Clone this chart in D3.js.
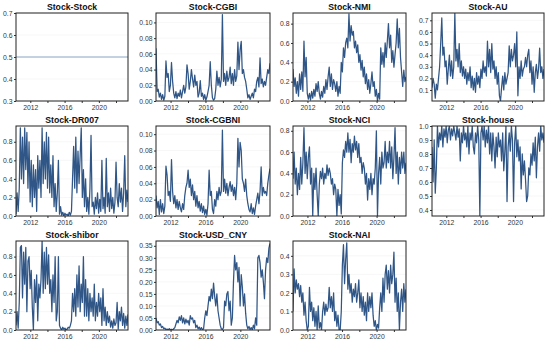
<!DOCTYPE html>
<html lang="en">
<head>
  <meta charset="UTF-8">
  <title>Stock pair series</title>
  <script src="https://d3js.org/d3.v7.min.js"></script>
  <style>
    body { margin: 0; background: #fff; }
    .title { font-family: "Liberation Sans", Arial, sans-serif; font-weight: bold; font-size: 8.7px; fill: #111; text-anchor: middle; }
    .tick text { font-family: "Liberation Sans", Arial, sans-serif; font-size: 6.8px; fill: #333; }
    .tick line { stroke: #333; }
    .domain { display: none; }
  </style>
</head>
<body>
<script>
// panel titles
const titles = ["Stock-Stock", "Stock-CGBI", "Stock-NMI", "Stock-AU",
  "Stock-DR007", "Stock-CGBNI", "Stock-NCI", "Stock-house",
  "Stock-shibor", "Stock-USD_CNY", "Stock-NAI"];

// series values, evenly spaced over the date range
const stockStock = [0.5, 0.5];
const cgbi = [0.067, 0.012, 0.015, 0.005, 0.010, 0.002, 0.008, 0.001, 0.006, 0.051,
  0.030, 0.035, 0.012, 0.020, 0.049, 0.025, 0.010, 0.004, 0.012, 0.003,
  0.010, 0.006, 0.014, 0.004, 0.012, 0.020, 0.010, 0.018, 0.046, 0.035,
  0.015, 0.025, 0.040, 0.028, 0.018, 0.033, 0.020, 0.025, 0.005, 0.010,
  0.026, 0.006, 0.010, 0.002, 0.008, 0.001, 0.005, 0.012, 0.020, 0.050,
  0.020, 0.004, 0.001, 0.003, 0.015, 0.038, 0.020, 0.030, 0.018, 0.028,
  0.110, 0.025, 0.035, 0.020, 0.038, 0.025, 0.030, 0.043, 0.022, 0.035,
  0.020, 0.040, 0.025, 0.032, 0.075, 0.040, 0.065, 0.076, 0.035, 0.040,
  0.030, 0.025, 0.015, 0.004, 0.008, 0.002, 0.006, 0.010, 0.004, 0.015,
  0.012, 0.025, 0.030, 0.018, 0.055, 0.022, 0.028, 0.018, 0.025, 0.020,
  0.030, 0.040, 0.035, 0.048];
const nmi = [0.33, 0.15, 0.24, 0.08, 0.20, 0.05, 0.28, 0.12, 0.30, 0.10,
  0.62, 0.25, 0.45, 0.08, 0.02, 0.08, 0.01, 0.10, 0.03, 0.12,
  0.05, 0.18, 0.10, 0.20, 0.08, 0.02, 0.10, 0.04, 0.15, 0.08,
  0.22, 0.12, 0.25, 0.35, 0.15, 0.28, 0.12, 0.22, 0.18, 0.10,
  0.20, 0.05, 0.15, 0.08, 0.40, 0.30, 0.55, 0.45, 0.60, 0.65,
  0.55, 0.90, 0.62, 0.78, 0.68, 0.72, 0.55, 0.62, 0.50, 0.58,
  0.40, 0.48, 0.32, 0.42, 0.25, 0.35, 0.18, 0.28, 0.12, 0.22,
  0.08, 0.18, 0.30, 0.15, 0.20, 0.05, 0.12, 0.00, 0.08, 0.02,
  0.55, 0.38, 0.50, 0.35, 0.60, 0.45, 0.62, 0.80, 0.55, 0.68,
  0.40, 0.52, 0.35, 0.48, 0.60, 0.85, 0.55, 0.75, 0.45, 0.30,
  0.15, 0.32, 0.20, 0.25];
const au = [0.12, 0.20, 0.15, 0.03, 0.15, 0.10, 0.20, 0.30, 0.50, 0.72,
  0.40, 0.47, 0.30, 0.35, 0.15, 0.28, 0.40, 0.22, 0.35, 0.20,
  0.30, 0.76, 0.35, 0.45, 0.30, 0.50, 0.25, 0.35, 0.22, 0.30,
  0.20, 0.28, 0.15, 0.25, 0.18, 0.30, 0.12, 0.22, 0.10, 0.20,
  0.08, 0.25, 0.15, 0.22, 0.12, 0.28, 0.20, 0.35, 0.25, 0.30,
  0.22, 0.52, 0.30, 0.45, 0.25, 0.50, 0.28, 0.35, 0.20, 0.30,
  0.15, 0.25, 0.05, 0.005, 0.12, 0.22, 0.10, 0.25, 0.15, 0.20,
  0.25, 0.48, 0.30, 0.45, 0.35, 0.40, 0.50, 0.30, 0.60, 0.05,
  0.30, 0.20, 0.35, 0.22, 0.28, 0.30, 0.38, 0.30, 0.40, 0.45,
  0.25, 0.35, 0.15, 0.30, 0.08, 0.25, 0.32, 0.20, 0.28, 0.46,
  0.25, 0.30, 0.20, 0.28];
const dr007 = [0.02, 0.25, 0.05, 0.30, 0.95, 0.40, 0.85, 0.35, 0.95, 0.50,
  0.90, 0.30, 0.80, 0.15, 0.60, 0.10, 0.55, 0.20, 0.50, 0.05,
  0.65, 0.30, 0.60, 0.20, 0.95, 0.35, 0.80, 0.40, 0.90, 0.30,
  0.85, 0.25, 0.55, 0.20, 0.65, 0.10, 0.35, 0.05, 0.25, 0.60,
  0.02, 0.10, 0.01, 0.04, 0.00, 0.03, 0.01, 0.02, 0.00, 0.04,
  0.01, 0.05, 0.40, 0.75, 0.30, 0.85, 0.25, 0.70, 0.35, 0.65,
  0.95, 0.20, 0.50, 0.10, 0.40, 0.05, 0.20, 0.02, 0.30, 0.87,
  0.10, 0.15, 0.02, 0.20, 0.08, 0.25, 0.03, 0.18, 0.05, 0.60,
  0.08, 0.20, 0.03, 0.62, 0.10, 0.25, 0.05, 0.30, 0.08, 0.20,
  0.03, 0.15, 0.58, 0.20, 0.10, 0.35, 0.15, 0.30, 0.05, 0.25,
  0.65, 0.10, 0.28, 0.15];
const cgbni = [0.025, 0.010, 0.018, 0.002, 0.020, 0.005, 0.015, 0.003, 0.012, 0.061,
  0.050, 0.025, 0.030, 0.018, 0.069, 0.030, 0.015, 0.025, 0.010, 0.020,
  0.008, 0.018, 0.010, 0.005, 0.015, 0.008, 0.025, 0.035, 0.040, 0.056,
  0.035, 0.045, 0.025, 0.038, 0.020, 0.030, 0.012, 0.025, 0.010, 0.018,
  0.006, 0.015, 0.004, 0.012, 0.002, 0.008, 0.001, 0.015, 0.056, 0.025,
  0.030, 0.008, 0.003, 0.020, 0.012, 0.030, 0.020, 0.035, 0.025, 0.030,
  0.105, 0.030, 0.045, 0.028, 0.040, 0.025, 0.035, 0.042, 0.030, 0.038,
  0.025, 0.035, 0.020, 0.040, 0.095, 0.060, 0.090, 0.080, 0.045, 0.040,
  0.030, 0.045, 0.025, 0.015, 0.008, 0.005, 0.015, 0.003, 0.010, 0.002,
  0.012, 0.020, 0.028, 0.015, 0.030, 0.060, 0.025, 0.035, 0.028, 0.030,
  0.025, 0.040, 0.050, 0.058];
const nci = [0.35, 0.60, 0.30, 0.45, 0.20, 0.40, 0.25, 0.55, 0.30, 0.50,
  0.83, 0.40, 0.60, 0.35, 0.55, 0.65, 0.30, 0.45, 0.00, 0.40,
  0.25, 0.45, 0.20, 0.00, 0.30, 0.42, 0.35, 0.45, 0.30, 0.40,
  0.35, 0.48, 0.38, 0.45, 0.40, 0.30, 0.35, 0.20, 0.30, 0.25,
  0.00, 0.25, 0.10, 0.20, 0.02, 0.50, 0.62, 0.55, 0.70, 0.60,
  0.78, 0.60, 0.72, 0.50, 0.68, 0.60, 0.75, 0.62, 0.70, 0.55,
  0.68, 0.50, 0.55, 0.40, 0.50, 0.45, 0.30, 0.40, 0.15, 0.35,
  0.25, 0.40, 0.20, 0.35, 0.30, 0.45, 0.80, 0.00, 0.40, 0.55,
  0.30, 0.60, 0.45, 0.50, 0.70, 0.45, 0.60, 0.50, 0.70, 0.45,
  0.65, 0.35, 0.55, 0.83, 0.40, 0.60, 0.30, 0.55, 0.40, 0.60,
  0.45, 0.60, 0.40, 0.50];
const house = [0.85, 0.60, 0.90, 0.52, 0.70, 1.00, 0.85, 0.95, 0.90, 1.00,
  0.85, 0.98, 0.92, 1.00, 0.88, 0.97, 1.00, 0.90, 0.98, 0.93,
  1.00, 0.95, 0.90, 1.00, 0.92, 0.98, 0.75, 0.95, 0.88, 1.00,
  0.90, 0.95, 0.85, 1.00, 0.80, 0.95, 0.90, 1.00, 0.85, 0.80,
  0.95, 0.88, 1.00, 0.90, 0.36, 0.95, 1.00, 0.90, 1.00, 0.85,
  0.97, 0.88, 1.00, 0.80, 0.95, 0.75, 0.95, 0.85, 0.70, 0.92,
  0.78, 0.95, 0.85, 0.90, 0.75, 0.95, 0.68, 0.82, 1.00, 0.46,
  0.85, 0.95, 0.82, 1.00, 0.90, 0.46, 0.88, 1.00, 0.78, 0.90,
  0.75, 0.85, 0.55, 0.80, 0.65, 0.75, 0.62, 0.46, 0.50, 0.70,
  0.65, 0.80, 0.72, 0.88, 0.75, 0.92, 0.63, 0.85, 0.95, 0.82,
  1.00, 0.90, 0.95, 0.88];
const shibor = [0.05, 0.20, 0.02, 0.30, 0.90, 0.92, 0.35, 0.85, 0.50, 0.90,
  0.20, 0.75, 0.80, 0.45, 0.65, 0.25, 0.00, 0.55, 0.30, 0.60,
  0.10, 0.50, 0.35, 0.55, 0.97, 0.40, 0.85, 0.45, 0.90, 0.50,
  0.82, 0.40, 0.55, 0.20, 0.60, 0.30, 0.80, 0.10, 0.20, 0.80,
  0.05, 0.02, 0.00, 0.03, 0.01, 0.02, 0.00, 0.01, 0.03, 0.02,
  0.05, 0.10, 0.40, 0.20, 0.45, 0.15, 0.60, 0.25, 0.70, 0.20,
  0.50, 0.30, 0.80, 0.15, 0.55, 0.15, 0.45, 0.10, 0.40, 0.20,
  0.35, 0.15, 0.50, 0.10, 0.30, 0.15, 0.40, 0.20, 0.35, 0.05,
  0.45, 0.10, 0.25, 0.05, 0.20, 0.08, 0.15, 0.03, 0.10, 0.02,
  0.12, 0.05, 0.08, 0.30, 0.01, 0.20, 0.10, 0.25, 0.05, 0.18,
  0.02, 0.15, 0.05, 0.17];
const usdCny = [0.050, 0.030, 0.035, 0.020, 0.025, 0.010, 0.015, 0.005, 0.008, 0.002,
  0.004, 0.000, 0.006, 0.001, 0.003, 0.000, 0.005, 0.010, 0.025, 0.040,
  0.030, 0.055, 0.040, 0.060, 0.030, 0.050, 0.025, 0.045, 0.030, 0.040,
  0.020, 0.060, 0.045, 0.050, 0.030, 0.040, 0.010, 0.020, 0.005, 0.012,
  0.002, 0.010, 0.001, 0.005, 0.050, 0.080, 0.060, 0.100, 0.140, 0.120,
  0.170, 0.130, 0.195, 0.140, 0.100, 0.150, 0.080, 0.050, 0.020, 0.005,
  0.002, 0.010, 0.120, 0.100, 0.150, 0.160, 0.080, 0.120, 0.020, 0.050,
  0.200, 0.310, 0.250, 0.280, 0.200, 0.260, 0.100, 0.230, 0.180, 0.100,
  0.150, 0.070, 0.020, 0.005, 0.015, 0.002, 0.010, 0.000, 0.020, 0.005,
  0.050, 0.020, 0.300, 0.310, 0.280, 0.220, 0.250, 0.200, 0.130, 0.250,
  0.300, 0.280, 0.340, 0.360];
const nai = [0.10, 0.33, 0.20, 0.27, 0.22, 0.25, 0.18, 0.24, 0.15, 0.20,
  0.08, 0.15, 0.05, 0.00, 0.02, 0.23, 0.10, 0.15, 0.05, 0.12,
  0.02, 0.10, 0.00, 0.13, 0.01, 0.04, 0.00, 0.10, 0.15, 0.08,
  0.14, 0.10, 0.12, 0.23, 0.12, 0.18, 0.10, 0.20, 0.05, 0.10,
  0.02, 0.08, 0.00, 0.00, 0.10, 0.35, 0.46, 0.25, 0.38, 0.47,
  0.22, 0.30, 0.20, 0.25, 0.15, 0.22, 0.18, 0.25, 0.15, 0.20,
  0.27, 0.12, 0.20, 0.10, 0.18, 0.08, 0.15, 0.05, 0.20, 0.10,
  0.18, 0.12, 0.20, 0.08, 0.02, 0.05, 0.00, 0.03, 0.01, 0.12,
  0.20, 0.10, 0.28, 0.15, 0.30, 0.35, 0.22, 0.32, 0.20, 0.35,
  0.25, 0.30, 0.42, 0.15, 0.28, 0.10, 0.20, 0.00, 0.15, 0.22,
  0.10, 0.25, 0.15, 0.22];

const series = [stockStock, cgbi, nmi, au, dr007, cgbni, nci, house, shibor, usdCny, nai];

// axis settings
const xRange = [2010.33, 2023.4];
const xTicks = [2012, 2014, 2016, 2018, 2020, 2022];
const xLabels = [2012, 2016, 2020];
const yDomains = [[0.3, 0.7], [0, 0.112], [0, 0.91], [0.005, 0.763],
  [0, 0.97], [0, 0.11], [0, 0.845], [0.357, 1.0],
  [0, 0.97], [0, 0.37], [0, 0.48]];
const yTicks = [[0.3, 0.4, 0.5, 0.6, 0.7], [0, 0.02, 0.04, 0.06, 0.08, 0.1], [0, 0.2, 0.4, 0.6, 0.8], [0.1, 0.2, 0.3, 0.4, 0.5, 0.6, 0.7],
  [0, 0.2, 0.4, 0.6, 0.8], [0, 0.02, 0.04, 0.06, 0.08, 0.1], [0, 0.2, 0.4, 0.6, 0.8], [0.4, 0.5, 0.6, 0.7, 0.8, 0.9, 1.0],
  [0, 0.2, 0.4, 0.6, 0.8], [0, 0.05, 0.1, 0.15, 0.2, 0.25, 0.3, 0.35], [0, 0.1, 0.2, 0.3, 0.4]];
const yFormats = [".1f", ".2f", ".1f", ".1f", ".1f", ".2f", ".1f", ".1f", ".1f", ".2f", ".1f"];

// grid layout (pixels)
const colLeft = [16, 156, 293, 432];
const colRight = [128, 270, 406, 544];
const rowTop = [13, 126, 241];
const rowBottom = [101, 216, 330];

const svg = d3.select("body").append("svg")
  .attr("width", 550)
  .attr("height", 344);

series.forEach((vals, k) => {
  const c = k % 4, r = Math.floor(k / 4);
  const x = d3.scaleLinear().domain(xRange).range([colLeft[c], colRight[c]]);
  const y = d3.scaleLinear().domain(yDomains[k]).range([rowBottom[r], rowTop[r]]);
  const g = svg.append("g");

  // faint grid
  g.selectAll(".grid")
    .data(yTicks[k])
    .enter().append("line")
    .attr("x1", colLeft[c]).attr("x2", colRight[c])
    .attr("y1", d => y(d)).attr("y2", d => y(d))
    .attr("stroke", "#f1f1f1")
    .attr("stroke-width", 0.6);

  g.append("clipPath").attr("id", "clip" + k)
    .append("rect")
    .attr("x", colLeft[c]).attr("y", rowTop[r])
    .attr("width", colRight[c] - colLeft[c])
    .attr("height", rowBottom[r] - rowTop[r]);

  const step = (xRange[1] - xRange[0]) / (vals.length - 1);
  const line = d3.line()
    .x((d, i) => x(xRange[0] + i * step))
    .y(d => y(d));

  g.append("path")
    .datum(vals)
    .attr("clip-path", `url(#clip${k})`)
    .attr("fill", "none")
    .attr("stroke", k === 0 ? "#7f9cbd" : "#2f5686")
    .attr("stroke-width", k === 0 ? 0.9 : 1.25)
    .attr("stroke-linejoin", "round")
    .attr("d", line);

  // axes
  g.append("g")
    .attr("transform", `translate(0,${rowBottom[r]})`)
    .call(d3.axisBottom(x).tickValues(xTicks).tickSize(2).tickPadding(2)
      .tickFormat(d => xLabels.includes(d) ? d : ""));

  g.append("g")
    .attr("transform", `translate(${colLeft[c]},0)`)
    .call(d3.axisLeft(y).tickValues(yTicks[k]).tickSize(2).tickPadding(1.5)
      .tickFormat(d3.format(yFormats[k])));

  // frame
  g.append("rect")
    .attr("x", colLeft[c]).attr("y", rowTop[r])
    .attr("width", colRight[c] - colLeft[c])
    .attr("height", rowBottom[r] - rowTop[r])
    .attr("fill", "none")
    .attr("stroke", "#222")
    .attr("stroke-width", 1);

  g.append("text")
    .attr("class", "title")
    .attr("x", (colLeft[c] + colRight[c]) / 2)
    .attr("y", rowTop[r] - 3)
    .text(titles[k]);
});
</script>
</body>
</html>
